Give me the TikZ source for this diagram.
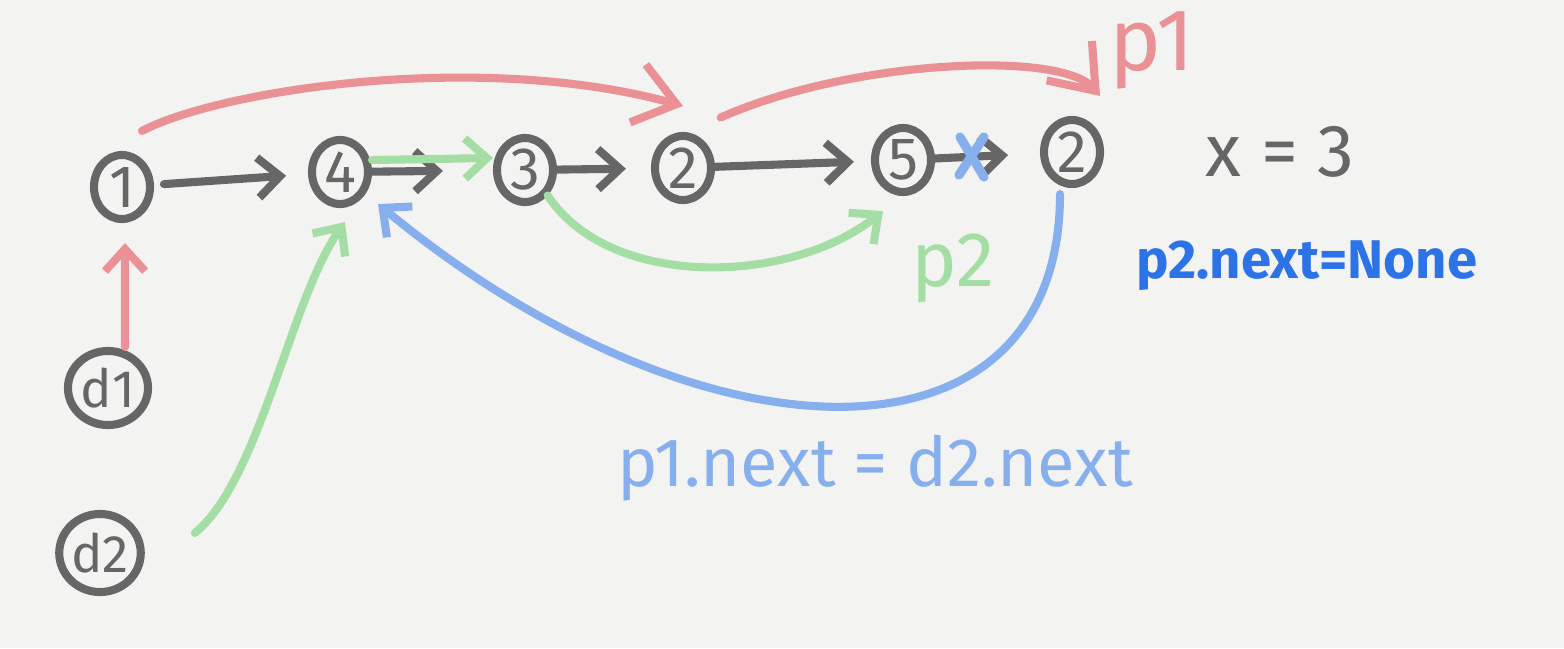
\documentclass[tikz,border=0pt]{standalone}
\usepackage{fontspec}
\setmainfont{Fira Sans}
\usetikzlibrary{arrows.meta,shapes.geometric}
\definecolor{papier}{RGB}{243,243,242}
\definecolor{crayon}{RGB}{102,102,102}
\definecolor{rouge}{RGB}{234,145,150}
\definecolor{vert}{RGB}{165,222,165}
\definecolor{bleuclair}{RGB}{135,175,238}
\definecolor{bleu}{RGB}{45,115,232}

\begin{document}
\begin{tikzpicture}[x=0.01cm,y=-0.01cm,line cap=round,line join=round,
  noeud/.style={draw=crayon,line width=2.3pt,ellipse,minimum width=5.6mm,minimum height=6.4mm,inner sep=0pt,text=crayon,font=\fontsize{17}{18}\selectfont},
  fleche/.style={line width=2.3pt,-{Straight Barb[length=2.2mm,width=4mm]}},
  grande/.style={line width=2.3pt,-{Straight Barb[length=4mm,width=6mm]}},
  texte/.style={inner sep=0pt,font=\fontsize{19.5}{22}\selectfont}]
\fill[papier] (0,0) rectangle (1564,648);
\useasboundingbox (0,0) rectangle (1564,648);
% liste chainee
\node[noeud] (n1) at (122,187) {1};
\node[noeud] (n4) at (340,172) {4};
\node[noeud] (n3) at (525,170) {3};
\node[noeud] (n2a) at (683,168) {2};
\node[noeud] (n5) at (903,160) {5};
\node[noeud] (n2b) at (1072,152) {2};
\node[noeud,minimum width=8mm,minimum height=7.4mm,font=\fontsize{15}{16}\selectfont] (d1) at (108,388) {d1};
\node[noeud,minimum width=7.4mm,minimum height=7.8mm,font=\fontsize{15}{16}\selectfont] (d2) at (100,553) {d2};
% textes
\node[texte,text=rouge,font=\fontsize{25}{28}\selectfont] (lp1) at (1152,50) {p1};
\node[texte,text=vert,font=\fontsize{22}{24}\selectfont] (lp2) at (953,268) {p2};
\node[texte,text=crayon,font=\fontsize{21}{24}\selectfont] (lx) at (1280,152) {x = 3};
\node[texte,text=bleu,font=\fontsize{15.5}{18}\selectfont\bfseries] (lnone) at (1307,266) {p2.next=None};
\node[texte,text=bleuclair] (lnext) at (875,468) {p1.next = d2.next};
\coordinate (croix) at (972,157);
% fleches noires
\draw[fleche,crayon,shorten <=1mm,shorten >=2.2mm] (n1) -- (n4);
\draw[fleche,crayon,shorten >=5mm] (n4) -- (n3);
\draw[fleche,crayon,shorten >=2.5mm] (n3) -- (n2a);
\draw[fleche,crayon,shorten >=1.7mm] (n2a) -- (n5);
\draw[fleche,crayon,shorten >=3.2mm] (n5) -- (n2b);
% rouge
\draw[fleche,rouge] ([xshift=1.7mm]d1.north) -- ([xshift=0.3mm,yshift=-2mm]n1.south);
\draw[grande,rouge] ([xshift=2mm,yshift=2mm]n1.north) .. controls (220,90) and (480,50) .. ([yshift=2.6mm]n2a.north);
\draw[grande,rouge] ([xshift=1.5mm,yshift=2.5mm]n2a.north east) .. controls (850,60) and (1060,50) .. ([xshift=2.8mm,yshift=2mm]n2b.north);
% vert
\draw[fleche,vert] ([yshift=1.2mm]n4.east) -- ([yshift=1.2mm]n3.west);
\draw[fleche,vert] (n3.south east) .. controls (610,290) and (790,285) .. ([xshift=-2mm,yshift=-1.5mm]n5.south);
\draw[fleche,vert] ([xshift=5mm,yshift=2mm]d2.east) .. controls (260,480) and (290,300) .. ([xshift=0.5mm,yshift=-1.4mm]n4.south);
% bleu
\draw[fleche,bleuclair] ([xshift=-1.2mm,yshift=-0.6mm]n2b.south) .. controls (1060,480) and (700,470) .. ([xshift=3.8mm,yshift=0.4mm]n4.south);
\draw[bleuclair,line width=2.6pt] ([shift={(-1.2mm,2mm)}]croix) -- ([shift={(1.2mm,-2mm)}]croix);
\draw[bleuclair,line width=2.6pt] ([shift={(1.2mm,2mm)}]croix) -- ([shift={(-1.3mm,-1.8mm)}]croix);
\end{tikzpicture}
\end{document}
